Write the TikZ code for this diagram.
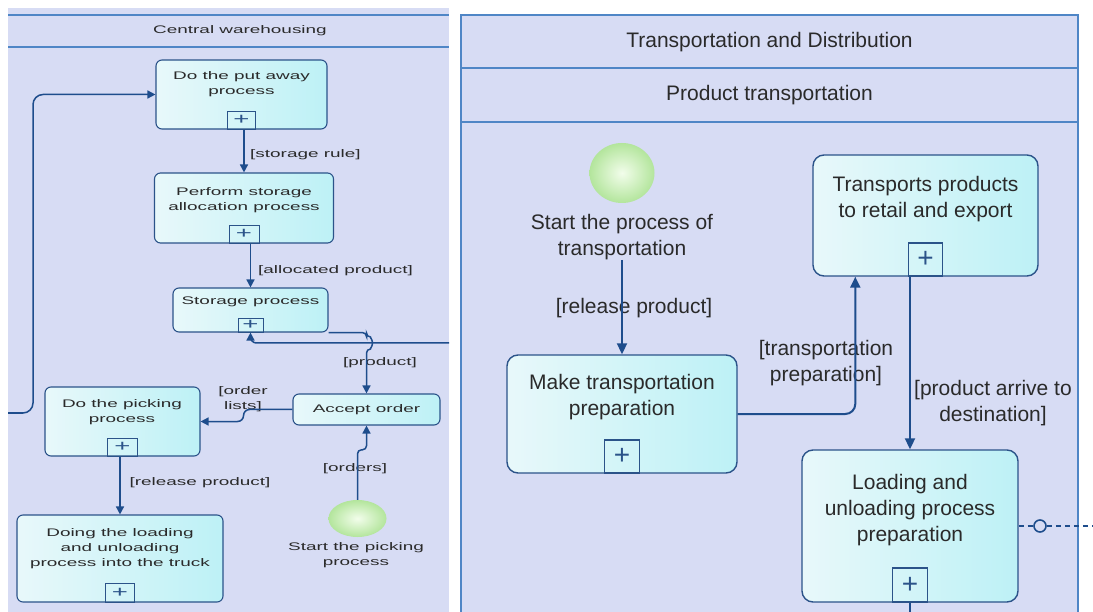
\documentclass[tikz,border=0pt]{standalone}
\usepackage{fontspec}
\setmainfont{Liberation Sans}
\newfontfamily\widesans[FakeStretch=1.72]{Liberation Sans}
\usepackage{tikz}
\usetikzlibrary{arrows.meta,positioning,calc,shapes.geometric}

\definecolor{lanebg}{HTML}{D7DCF4}
\definecolor{lanecol}{HTML}{4F86C6}
\definecolor{boxcol}{HTML}{2B5389}
\definecolor{flowcol}{HTML}{1E4D8C}
\definecolor{boxlight}{HTML}{E8F8FA}
\definecolor{boxdark}{HTML}{BDF1F6}
\definecolor{txtcol}{HTML}{2A2A2A}
\definecolor{ballin}{HTML}{F2FDEB}
\definecolor{ballout}{HTML}{B3E59C}

\tikzset
{
    lefttask/.style   = {rectangle, draw=boxcol, line width=1.1pt, rounded corners=6pt, left color=boxlight, right color=boxdark},
    righttask/.style  = {rectangle, draw=boxcol, line width=1.4pt, rounded corners=11pt, left color=boxlight, right color=boxdark},
    leftplus/.style   = {rectangle, draw=boxcol, line width=1pt, anchor=south, inner sep=0pt, text=boxcol, font=\widesans\fontsize{16}{16}\selectfont},
    rightplus/.style  = {rectangle, draw=boxcol, line width=1.3pt, anchor=south, inner sep=0pt, text=boxcol, font=\fontsize{28}{28}\selectfont},
    lefttext/.style   = {align=center, text=txtcol, inner sep=0pt, font=\widesans\fontsize{11}{15}\selectfont},
    righttext/.style  = {align=center, text=txtcol, inner sep=0pt, font=\fontsize{21}{26}\selectfont},
    startevent/.style = {ellipse, inner color=ballin, outer color=ballout},
    leftflow/.style   = {->, draw=flowcol, line width=1.5pt},
    rightflow/.style  = {-{Triangle[length=11pt,width=10pt]}, draw=flowcol, line width=2pt},
    assoc/.style      = {draw=flowcol, line width=1.6pt, dash pattern=on 5pt off 4pt}
}

\begin{document}
\begin{tikzpicture}[x=1pt, y=-1pt, >={Triangle[length=8pt,width=8pt]}]
    \useasboundingbox (0,0) rectangle (1093,612);
    \fill[white] (0,0) rectangle (1093,612);

    % lanes
    \fill[lanebg] (8,8) rectangle (449,612);
    \fill[lanebg] (461,15) rectangle (1078,612);
    \draw[lanecol, line width=1.5pt] (8,15) -- (449,15) (8,47) -- (449,47);
    \draw[lanecol, line width=2pt] (461,612) -- (461,15) -- (1078,15) -- (1078,612)
        (461,68) -- (1078,68) (461,122) -- (1078,122);
    \node[lefttext] (centralhdr) at (240,31) {Central warehousing};
    \node[righttext] (transhdr) at (769.5,42) {Transportation and Distribution};
    \node[righttext] (producthdr) at (769.5,95) {Product transportation};

    % central warehousing
    \node[lefttask, minimum width=171pt, minimum height=69pt] (putaway) at (241.5,94.5) {};
    \node[lefttext] (putawaytxt) at (241.5,84) {Do the put away\\process};
    \node[leftplus, minimum width=28pt, minimum height=18pt] (putawayplus) at (putaway.south) {+};

    \node[lefttask, minimum width=179pt, minimum height=70pt] (perform) at (244,208) {};
    \node[lefttext] (performtxt) at (244,200) {Perform storage\\allocation process};
    \node[leftplus, minimum width=30pt, minimum height=18pt] (performplus) at (perform.south) {+};

    \node[lefttask, minimum width=155pt, minimum height=44pt] (storage) at (250.5,310) {};
    \node[lefttext] (storagetxt) at (250.5,302) {Storage process};
    \node[leftplus, minimum width=25pt, minimum height=14pt] (storageplus) at (storage.south) {+};

    \node[lefttask, lefttext, minimum width=147pt, minimum height=31pt] (accept) at (366.5,409.5) {Accept order};

    \node[lefttask, minimum width=155pt, minimum height=69pt] (picking) at (122.5,421.5) {};
    \node[lefttext] (pickingtxt) at (122,412) {Do the picking\\process};
    \node[leftplus, minimum width=30pt, minimum height=18pt] (pickingplus) at (picking.south) {+};

    \node[lefttask, minimum width=206pt, minimum height=87pt] (truckload) at (120,558.5) {};
    \node[lefttext] (truckloadtxt) at (120,549) {Doing the loading\\and unloading\\process into the truck};
    \node[leftplus, minimum width=29pt, minimum height=19pt] (truckloadplus) at (truckload.south) {+};

    \node[startevent, minimum width=58pt, minimum height=37pt] (pickstart) at (357.5,518.5) {};
    \node[lefttext] (pickstartlbl) at (356,555) {Start the picking\\process};

    \node[lefttext, anchor=west] (rulelbl) at (250,155) {[storage rule]};
    \node[lefttext, anchor=west] (allocatedlbl) at (258,271) {[allocated product]};
    \node[lefttext] (productlbl) at (380,363) {[product]};
    \node[lefttext] (orderlistlbl) at (243,399) {[order\\lists]};
    \node[lefttext] (releaselbl) at (200,483) {[release product]};
    \node[lefttext] (orderslbl) at (355,469) {[orders]};

    \coordinate (loopin) at (8,413);
    \coordinate (loopup) at (33,94.5);
    \coordinate (fromright) at (449,343);

    \draw[leftflow] (perform.north |- putaway.south) -- (perform.north);
    \draw[leftflow] (storage.north |- perform.south) -- (storage.north);
    \draw[leftflow, rounded corners=6pt] (fromright) -| (storageplus.south);
    \draw[leftflow, rounded corners=4pt] (storage.south east)
        -| ($(accept.north |- fromright)+(0,-6)$) arc (-90:90:6) -- (accept.north);
    \draw[leftflow, rounded corners=6pt] (accept.west) -| ($(picking.east)+(43,0)$) -- (picking.east);
    \draw[leftflow] (truckload.north |- picking.south) -- (truckload.north);
    \draw[leftflow, rounded corners=4pt] (pickstart.north) -- ++(0,-50) -| (accept.south);
    \draw[leftflow, rounded corners=10pt] (loopin) -| (loopup) -- (putaway.west);

    % product transportation
    \node[startevent, minimum width=65pt, minimum height=60pt] (tstart) at (622,173) {};
    \node[righttext] (tstartlbl) at (622,237) {Start the process of\\transportation};

    \node[righttask, minimum width=230pt, minimum height=118pt] (makeprep) at (622,414) {};
    \node[righttext] (makepreptxt) at (622,397) {Make transportation\\preparation};
    \node[rightplus, minimum width=35pt, minimum height=33pt] (makeprepplus) at (makeprep.south) {+};

    \node[righttask, minimum width=225pt, minimum height=121pt] (transport) at (925.5,215.5) {};
    \node[righttext] (transporttxt) at (925.5,199) {Transports products\\to retail and export};
    \node[rightplus, minimum width=34pt, minimum height=33pt] (transportplus) at (transport.south) {+};

    \node[righttask, minimum width=216pt, minimum height=152pt] (loadprep) at (910,526) {};
    \node[righttext] (loadpreptxt) at (910,510) {Loading and\\unloading process\\preparation};
    \node[rightplus, minimum width=35pt, minimum height=34pt] (loadprepplus) at (loadprep.south) {+};

    \node[righttext] (releaselbl2) at (634,308) {[release product]};
    \node[righttext] (preplbl) at (826,363.5) {[transportation\\preparation]};
    \node[righttext] (arrivelbl) at (993,403) {[product arrive to\\destination]};

    \node[circle, draw=flowcol, line width=1.6pt, fill=lanebg, minimum size=12pt, inner sep=0pt] (assocmark) at (1040,526) {};
    \coordinate (assocend) at (1093,526);
    \coordinate (loadout) at (910,612);

    \draw[rightflow] (tstartlbl.south) -- (makeprep.north);
    \draw[rightflow, rounded corners=10pt] (makeprep.east) -| ($(transport.south west)+(43,0)$);
    \draw[rightflow] (loadprep.north |- transport.south) -- (loadprep.north);
    \draw[flowcol, line width=2pt] (loadprepplus.south) -- (loadout);
    \draw[assoc] (loadprep.east) -- (assocmark.west);
    \draw[assoc] (assocmark.east) -- (assocend);
\end{tikzpicture}
\end{document}
